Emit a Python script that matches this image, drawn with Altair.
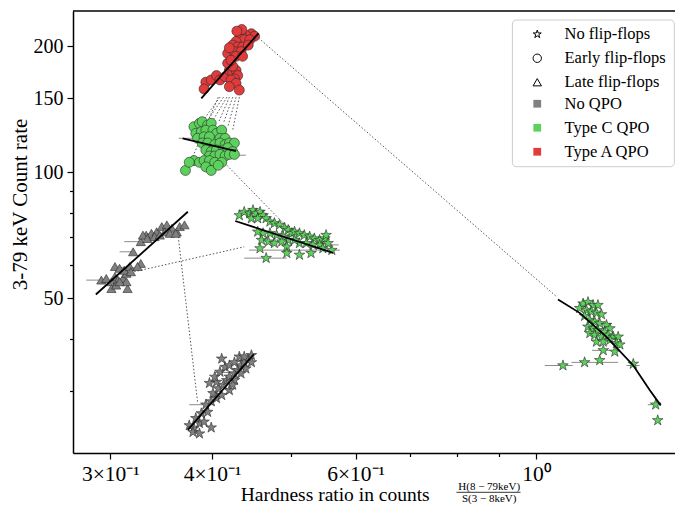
import math
import pandas as pd
import altair as alt

FONT = "Liberation Serif"

flip_names = ["No flip-flops", "Early flip-flops", "Late flip-flops"]
qpo_names = ["No QPO", "Type C QPO", "Type A QPO"]
qpo_colors = ["#808080", "#5cd15c", "#e23b3b"]

# ---- data ----
red_x = [0.447, 0.451, 0.440, 0.434, 0.432, 0.438, 0.445, 0.428, 0.424, 0.430, 0.436, 0.443, 0.422, 0.418,
         0.426, 0.434, 0.420, 0.428, 0.436, 0.435, 0.429,
         0.393, 0.399, 0.405, 0.409, 0.415, 0.420, 0.424, 0.428, 0.430, 0.426, 0.422, 0.428, 0.420, 0.432,
         0.391, 0.424, 0.418, 0.422]
red_y = [214, 211, 212, 214, 208, 207, 207, 205, 201, 199, 199, 201, 194, 192, 194, 194, 198, 189, 189, 219, 217,
         164, 166, 170, 166, 169, 175, 173, 175, 170, 167, 166, 163, 160, 157, 158, 179, 182, 185]

gc_x = [0.380, 0.386, 0.389, 0.395, 0.399, 0.382, 0.388, 0.393, 0.401, 0.405, 0.411, 0.384, 0.391, 0.397,
        0.409, 0.415, 0.389, 0.395, 0.403, 0.409, 0.415, 0.420, 0.426, 0.393, 0.399, 0.405, 0.413, 0.418,
        0.424, 0.397, 0.403, 0.409, 0.415, 0.420, 0.426, 0.380, 0.386, 0.391, 0.397, 0.403, 0.411, 0.393,
        0.399, 0.407, 0.371, 0.375]
gc_y = [128.4, 130.8, 132, 129.6, 130.8, 123.8, 124.9, 126, 126, 123.8, 126, 120.5, 121.5, 121.5, 120.5, 120.5,
        117.4, 117.4, 116.4, 117.4, 116.4, 117.4, 117.4, 113, 112, 113, 113, 114.4, 112, 109.3, 109.3, 110.3,
        109.3, 110.3, 110.3, 106.6, 105.6, 106.6, 106.6, 105.6, 105.6, 103, 101, 103.9, 101, 105.6]

tri_x = [0.2925, 0.2966, 0.301, 0.304, 0.3065, 0.311, 0.314, 0.301, 0.305, 0.315, 0.304, 0.308, 0.312, 0.317,
         0.320, 0.327, 0.327, 0.332, 0.337, 0.342, 0.347, 0.352, 0.357, 0.362, 0.365, 0.370, 0.329, 0.333,
         0.340, 0.345, 0.350, 0.355, 0.361, 0.318, 0.324, 0.314, 0.308]
tri_y = [55.3, 55.8, 54.8, 56.4, 55.3, 55.8, 57.4, 52.8, 53.8, 52.8, 59.6, 59.0, 58.4, 59.6, 64.6, 60.6, 68.3,
         70.8, 71.5, 72.1, 74.2, 74.9, 73.5, 72.1, 74.2, 74.9, 70.8, 69.5, 70.2, 70.8, 72.1, 71.5, 71.5, 57.9,
         59.6, 54.8, 54.8]

gs_x = [0.375, 0.380, 0.386, 0.391, 0.399, 0.382, 0.388, 0.395, 0.379, 0.386, 0.393, 0.399, 0.405, 0.411,
        0.401, 0.407, 0.413, 0.417, 0.420, 0.426, 0.430, 0.434, 0.438, 0.443, 0.447, 0.447, 0.440, 0.434,
        0.426, 0.420, 0.424, 0.411, 0.432, 0.438, 0.405, 0.397, 0.403, 0.409, 0.415, 0.420, 0.426]
gs_y = [24.9, 24.5, 25.2, 25.4, 24.6, 25.9, 26.6, 26.8, 24.0, 23.8, 27.9, 28.4, 28.9, 29.4, 29.7, 30.5, 31.1,
        31.9, 32.5, 33.1, 33.7, 34.6, 35.2, 35.6, 36.6, 35.2, 34.0, 33.1, 31.9, 30.2, 31.1, 35.9, 36.3, 36.3,
        31.6, 31.4, 32.5, 33.4, 34.3, 34.6, 35.2]

gm_x = [0.432, 0.438, 0.445, 0.449, 0.453, 0.458, 0.462, 0.447, 0.455, 0.466, 0.471, 0.477, 0.484, 0.491,
        0.496, 0.501, 0.505, 0.512, 0.519, 0.527, 0.534, 0.542, 0.550, 0.552, 0.542, 0.532, 0.522, 0.512,
        0.505, 0.496, 0.489, 0.480, 0.471, 0.462, 0.455, 0.460, 0.469, 0.477, 0.487, 0.494, 0.458, 0.466,
        0.494, 0.512, 0.529, 0.547, 0.561, 0.555]
gm_y = [78.9, 80.4, 79.7, 81.2, 79.7, 80.4, 78.9, 77.6, 77.6, 77.6, 76.2, 75.6, 74.9, 73.6, 72.8, 71.5, 72.1,
        71.5, 70.8, 70.2, 69.5, 68.9, 69.5, 70.8, 67.1, 67.1, 67.7, 67.7, 68.9, 68.9, 70.2, 70.8, 71.5, 71.5,
        72.1, 68.9, 68.3, 67.7, 68.3, 66.4, 65.8, 62.4, 64.1, 63.5, 64.1, 65.8, 65.2, 67.7]

gr_x = [1.141, 1.157, 1.174, 1.190, 1.130, 1.152, 1.168, 1.185, 1.202, 1.146, 1.163, 1.179, 1.196, 1.219,
        1.157, 1.174, 1.190, 1.213, 1.231, 1.163, 1.179, 1.202, 1.225, 1.243, 1.260, 1.185, 1.208, 1.231,
        1.254, 1.266, 1.208, 1.248, 1.078, 1.146, 1.196, 1.315, 1.401, 1.409]
gr_y = [48.6, 49.0, 48.2, 48.2, 47.4, 46.9, 46.5, 46.2, 45.8, 45.4, 44.4, 44.0, 43.6, 43.2, 42.8, 42.4, 42.0,
        41.6, 42.4, 41.3, 40.9, 40.5, 40.9, 40.5, 40.5, 39.4, 39.4, 39.8, 39.1, 38.8, 37.6, 37.3, 34.6, 35.2,
        35.6, 34.9, 27.9, 25.6]

# horizontal error bars
eb_x1 = [0.2803, 0.308, 0.308, 0.312, 0.329, 0.444, 0.438, 0.542, 1.024, 1.104, 1.290, 1.170, 1.370, 0.423,
         0.364, 0.375, 0.403]
eb_x2 = [0.2994, 0.324, 0.3213, 0.329, 0.350, 0.574, 0.494, 0.572, 1.108, 1.260, 1.339, 1.231, 1.420, 0.440,
         0.386, 0.403, 0.432]
eb_y = [55.3, 59.2, 64.6, 68.3, 71.3, 65.2, 62.4, 67.1, 34.6, 35.2, 34.6, 37.6, 27.9, 109.8, 120.5, 27.9, 33.3]

# dotted connecting lines
dl_x1 = [0.456, 0.409, 0.413, 0.417, 0.420, 0.424, 0.428, 0.432, 0.407, 0.417, 0.3635, 0.321]
dl_y1 = [209, 151, 151, 151, 151, 151, 151, 151, 151, 103.9, 70.2, 57.9]
dl_x2 = [1.06, 0.389, 0.395, 0.401, 0.407, 0.413, 0.418, 0.424, 0.377, 0.501, 0.384, 0.438]
dl_y2 = [50.4, 132, 133, 133, 131, 131, 128, 126, 106.6, 72.1, 28.2, 66.4]

# fitted trends
fit_red_x, fit_red_y = [0.388, 0.456], [150.0, 214.4]
fit_gc_x, fit_gc_y = [0.368, 0.428], [120.4, 112.3]
fit_tri_x, fit_tri_y = [0.288, 0.3735], [51.1, 80.5]
fit_gs_x, fit_gs_y = [0.3735, 0.450], [24.3, 36.8]
fit_gm_x, fit_gm_y = [0.427, 0.563], [76.5, 64.2]
fit_gr_x = [1.063, 1.130, 1.219, 1.315, 1.378, 1.421]
fit_gr_y = [49.7, 46.2, 40.5, 34.6, 30.2, 27.8]

x_ticks = [0.3, 0.4, 0.5, 0.6, 0.7, 0.8, 0.9, 1.0]
y_ticks = [30, 40, 50, 60, 70, 80, 90, 100, 150, 200]

# ---- frames ----
def pts(xs, ys, flip, qpo):
    return pd.DataFrame({"x": xs, "y": ys, "flip": flip, "qpo": qpo})

stars_df = pd.concat([pts(gs_x, gs_y, flip_names[0], qpo_names[0]),
                      pts(gm_x, gm_y, flip_names[0], qpo_names[1]),
                      pts(gr_x, gr_y, flip_names[0], qpo_names[1])])
circ_df = pd.concat([pts(red_x, red_y, flip_names[1], qpo_names[2]),
                     pts(gc_x, gc_y, flip_names[1], qpo_names[1])])
tri_df = pts(tri_x, tri_y, flip_names[2], qpo_names[0])

eb_df = pd.DataFrame({"x1": eb_x1, "x2": eb_x2, "y": eb_y})
dl_df = pd.DataFrame({"x1": dl_x1, "y1": dl_y1, "x2": dl_x2, "y2": dl_y2})
fits = []
for k, (fx, fy) in enumerate([(fit_red_x, fit_red_y), (fit_gc_x, fit_gc_y), (fit_tri_x, fit_tri_y),
                              (fit_gs_x, fit_gs_y), (fit_gm_x, fit_gm_y), (fit_gr_x, fit_gr_y)]):
    fits.append(pd.DataFrame({"x": fx, "y": fy, "seg": k}))
fit_df = pd.concat(fits)

# star marker path
sp = []
for i in range(10):
    a = math.radians(-90 + 36 * i)
    r = 1.0 if i % 2 == 0 else 0.382
    sp.append(f"{r * math.cos(a):.4f},{r * math.sin(a):.4f}")
STAR = "M" + "L".join(sp) + "Z"

W, H = 602, 442
xscale = alt.Scale(type="log", domain=[0.27, 1.4795], nice=False)
yscale = alt.Scale(type="log", domain=[21.4, 242.4], nice=False)

x_label_expr = ("datum.value==0.3?'3×10⁻¹':datum.value==0.4?'4×10⁻¹':"
                "datum.value==0.6?'6×10⁻¹':datum.value==1?'10⁰':''")
x_axis = alt.Axis(values=x_ticks, labelExpr=x_label_expr, title=None, labelOverlap=False, labelFlush=False,
                  tickSize={"condition": {"test": "datum.value==0.3||datum.value==0.4||datum.value==0.6||datum.value==1",
                                          "value": 6}, "value": 3.5},
                  labelFontSize=21.5, labelPadding=4.5)
y_axis = alt.Axis(values=y_ticks, title="3-79 keV Count rate", labelOverlap=False, labelFlush=False,
                  labelExpr="indexof([50,100,150,200], datum.value) >= 0 ? datum.label : ''",
                  tickSize={"condition": {"test": "indexof([50,100,150,200], datum.value) >= 0", "value": 6},
                            "value": 3.5},
                  labelFontSize=20, labelPadding=4, titleFontSize=21, titleX=-47, titleY=193,
                  titleBaseline="alphabetic", titleAngle=270)

X = alt.X("x:Q", scale=xscale, axis=x_axis)
Y = alt.Y("y:Q", scale=yscale, axis=y_axis)

shape_legend = alt.Legend(title=None, orient="none", legendX=456, legendY=15, symbolFillColor="white",
                          symbolStrokeColor="black", symbolStrokeWidth=1, symbolSize=70, labelFont=FONT,
                          labelFontSize=16.5, labelColor="black", rowPadding=7, labelOffset=19, padding=0)
color_legend = alt.Legend(title=None, orient="none", legendX=456, legendY=84.5, symbolType="square",
                          symbolSize=60, symbolStrokeWidth=0, symbolOpacity=1, labelFont=FONT,
                          labelFontSize=16.5, labelColor="black", rowPadding=7, labelOffset=19, padding=0)
shape_enc = alt.Shape("flip:N", scale=alt.Scale(domain=flip_names, range=[STAR, "circle", "triangle-up"]),
                      legend=shape_legend)
color_enc = alt.Color("qpo:N", scale=alt.Scale(domain=qpo_names, range=qpo_colors), legend=color_legend)

one = pd.DataFrame({"a": [0]})

box = alt.Chart(one).mark_rect(fill="white", stroke="#cccccc", strokeWidth=1, cornerRadius=4).encode(
    x=alt.value(439.4), x2=alt.value(601.3), y=alt.value(9), y2=alt.value(155.7))

errbars = alt.Chart(eb_df).mark_rule(color="#8c8c8c", strokeWidth=1).encode(
    x=alt.X("x1:Q", scale=xscale, axis=x_axis), x2="x2:Q", y=alt.Y("y:Q", scale=yscale, axis=y_axis))

dotted = alt.Chart(dl_df).mark_rule(color="#555555", strokeWidth=1, strokeDash=[1.5, 2]).encode(
    x=alt.X("x1:Q", scale=xscale, axis=x_axis), y=alt.Y("y1:Q", scale=yscale, axis=y_axis),
    x2="x2:Q", y2="y2:Q")


def point_layer(df, size):
    return alt.Chart(df).mark_point(filled=True, size=size, stroke="#2a2a2a", strokeWidth=0.6, opacity=1).encode(
        x=X, y=Y, shape=shape_enc, color=color_enc)


stars = point_layer(stars_df, 125)
circles = point_layer(circ_df, 100)
tris = point_layer(tri_df, 85)

fitlines = alt.Chart(fit_df).mark_line(color="black", strokeWidth=1.8).encode(x=X, y=Y, detail="seg:N")

topline = alt.Chart(one).mark_rule(color="black", strokeWidth=1.5).encode(
    x=alt.value(0), x2=alt.value(W), y=alt.value(0))


def text_layer(txt, x, y, size, baseline="alphabetic"):
    return alt.Chart(pd.DataFrame({"t": [txt]})).mark_text(
        font=FONT, fontSize=size, align="center", baseline=baseline, color="black").encode(
        x=alt.value(x), y=alt.value(y), text="t:N")


xtitle = text_layer("Hardness ratio in counts", 262.2, 490, 19.5)
num = text_layer("H(8 − 79keV)", 416.2, 478.5, 11)
den = text_layer("S(3 − 8keV)", 416.2, 490.5, 11)
fracbar = alt.Chart(one).mark_rule(color="black", strokeWidth=0.8).encode(
    x=alt.value(383.5), x2=alt.value(447.5), y=alt.value(481.3))

chart = alt.layer(box, errbars, dotted, tris, circles, stars, fitlines, topline, xtitle, num, den, fracbar).properties(
    width=W, height=H, autosize=alt.AutoSizeParams(type="none"),
    padding={"left": 65, "top": 3, "right": 0, "bottom": 52},
    background="white"
).configure_view(stroke=None).configure_axis(
    labelFont=FONT, titleFont=FONT, labelColor="black", titleColor="black", domainColor="black",
    tickColor="black", domainWidth=1.5, tickWidth=1.2, grid=False, titleFontWeight="normal"
)

chart.save("out.html", embed_options={"renderer": "svg", "actions": False})
